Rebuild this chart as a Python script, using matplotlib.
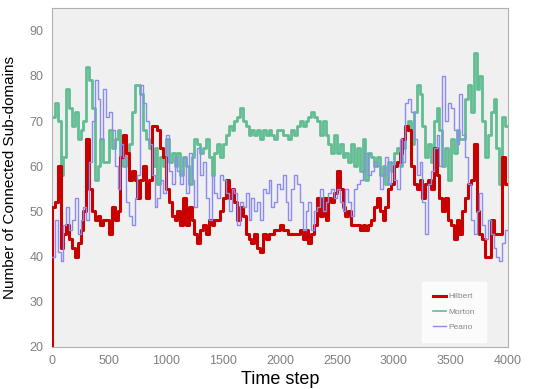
import numpy as np
import matplotlib.pyplot as plt

plt.rcParams['font.family'] = ['Liberation Sans', 'DejaVu Sans']

step = 25
hilbert = [51, 52, 60, 42, 45, 47, 44, 42, 40, 43, 46, 50, 66, 55, 50, 48,
           49, 47, 48, 48, 45, 51, 48, 50, 62, 67, 63, 57, 59, 57, 53, 57,
           60, 53, 57, 69, 69, 68, 64, 62, 55, 52, 49, 48, 50, 47, 53, 47,
           51, 48, 45, 43, 46, 47, 45, 48, 47, 48, 48, 50, 53, 57, 53, 55,
           52, 48, 51, 49, 45, 44, 43, 45, 42, 41, 45, 44, 45, 45, 46, 46,
           47, 46, 46, 45, 45, 45, 45, 46, 44, 46, 43, 45, 47, 53, 49, 53,
           48, 53, 52, 54, 59, 55, 51, 49, 50, 47, 47, 47, 46, 47, 46, 47,
           48, 51, 53, 50, 48, 51, 55, 56, 60, 61, 63, 66, 69, 68, 60, 56,
           55, 57, 53, 56, 57, 55, 64, 58, 53, 50, 53, 48, 47, 44, 48, 45,
           50, 53, 56, 57, 65, 50, 45, 44, 40, 40, 48, 45, 45, 45, 62, 56]
morton = [71, 74, 70, 58, 62, 77, 73, 69, 72, 66, 68, 70, 82, 79, 73, 57,
          60, 66, 61, 61, 68, 64, 66, 68, 62, 60, 63, 65, 72, 78, 78, 76,
          68, 66, 64, 60, 64, 56, 62, 60, 66, 61, 63, 60, 63, 58, 62, 60,
          56, 62, 66, 65, 63, 64, 66, 62, 58, 63, 65, 62, 65, 67, 69, 68,
          70, 71, 73, 70, 69, 67, 68, 67, 68, 66, 68, 67, 68, 67, 66, 68,
          68, 67, 67, 66, 68, 67, 69, 70, 69, 70, 71, 72, 71, 70, 67, 70,
          67, 65, 63, 67, 63, 65, 62, 63, 61, 65, 60, 64, 59, 66, 57, 63,
          62, 60, 62, 58, 60, 56, 61, 59, 63, 64, 60, 64, 68, 70, 65, 72,
          78, 76, 69, 62, 65, 61, 70, 73, 68, 60, 64, 57, 66, 63, 68, 66,
          66, 75, 78, 72, 85, 77, 80, 70, 62, 67, 72, 75, 64, 56, 71, 69]
peano = [40, 48, 41, 39, 47, 51, 46, 48, 53, 45, 48, 51, 48, 61, 70, 79,
         75, 66, 77, 71, 72, 68, 60, 55, 65, 62, 52, 49, 47, 53, 58, 78,
         74, 70, 65, 58, 51, 53, 57, 54, 67, 59, 56, 62, 59, 56, 62, 54,
         63, 57, 51, 64, 58, 61, 53, 48, 58, 54, 53, 58, 57, 54, 50, 55,
         54, 47, 52, 51, 54, 48, 53, 50, 52, 48, 55, 54, 57, 51, 52, 56,
         55, 58, 52, 48, 55, 58, 56, 52, 46, 50, 52, 46, 50, 51, 55, 50,
         52, 54, 55, 53, 55, 52, 50, 55, 52, 49, 55, 56, 57, 59, 63, 58,
         59, 61, 60, 55, 58, 62, 56, 61, 57, 55, 66, 61, 74, 75, 72, 66,
         58, 61, 52, 45, 56, 59, 64, 67, 60, 80, 70, 74, 73, 68, 65, 76,
         67, 62, 56, 48, 45, 50, 54, 47, 44, 48, 45, 42, 40, 39, 43, 46]

t = np.arange(len(hilbert) + 1) * step

fig = plt.figure(figsize=(5.42, 3.89), dpi=100)
ax = fig.add_axes([0.096, 0.108, 0.841, 0.871])
ax.set_facecolor('#f0f0f0')

# Hilbert begins at 20 at time 0
ax.plot(np.concatenate([[0], t]), [20] + hilbert + [hilbert[-1]],
        drawstyle='steps-post', color='#c80000', lw=2.2, label='Hilbert', zorder=3)
ax.plot(t, morton + [morton[-1]], drawstyle='steps-post',
        color='#62bd92', lw=2.0, label='Morton', zorder=2)
ax.plot(t, peano + [peano[-1]], drawstyle='steps-post',
        color='#8c8cf0', lw=1.0, label='Peano', zorder=4)

ax.set_xlim(0, 4000)
ax.set_ylim(20, 95)
ax.set_xticks(range(0, 4001, 500))
ax.set_yticks(range(20, 91, 10))
ax.tick_params(length=0, colors='#808080', labelsize=9, pad=6)
for s in ax.spines.values():
    s.set_color('#b0b0b0')

ax.set_xlabel('Time step', fontsize=13, labelpad=3)
ax.set_ylabel('Number of Connected Sub-domains', fontsize=11, labelpad=9)

leg = ax.legend(loc='lower right', fontsize=6, frameon=True, handlelength=1.6,
                borderpad=1.0, labelspacing=0.9, handletextpad=0.3,
                bbox_to_anchor=(0.955, 0.01))
leg.get_frame().set_edgecolor('white')
leg.get_frame().set_facecolor('white')
leg.get_frame().set_boxstyle('square')
leg.get_lines()[1].set_linewidth(1.2)
for txt in leg.get_texts():
    txt.set_color('#888888')

fig.savefig('out.png', dpi=100)
